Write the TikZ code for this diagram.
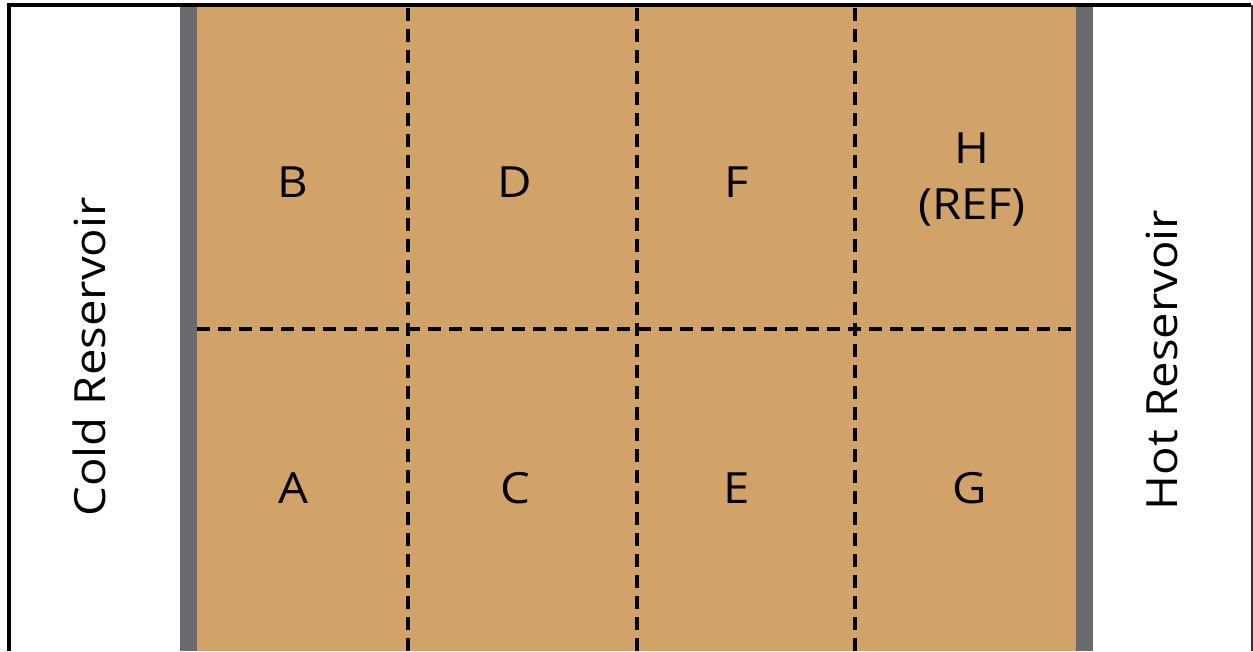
\documentclass[tikz,border=0pt]{standalone}
\usepackage{fontspec}
\setmainfont{Open Sans}[FakeStretch=1.1]
\definecolor{sand}{RGB}{210,163,104}
\definecolor{wallgray}{RGB}{106,107,112}

\begin{document}
\begin{tikzpicture}[x=1pt, y=-1pt,
    lbl/.style={font=\fontsize{43}{56}\selectfont, inner sep=0pt},
    divider/.style={line width=3.1pt, dash pattern=on 13pt off 8pt}]

  % Page area, same size as the image
  \fill[white] (0,0) rectangle (1253,651);
  \useasboundingbox (0,0) rectangle (1253,651);

  % Outer frame (bottom edge is cut off)
  \draw[line width=4pt] (8.5,651) -- (8.5,4.5) -- (1251,4.5);
  \draw[line width=2pt, black!80] (1251.5,4.5) -- (1251.5,651);

  % Walls and the sand sample
  \fill[wallgray] (180,6.5) rectangle (1093,651);
  \fill[sand] (197,6.5) rectangle (1076,651);

  % Dashed dividers
  \draw[divider] (197,329) -- (1076,329);
  \foreach \x in {408,637,855}
    \draw[divider] (\x,8) -- (\x,651);

  % Reservoir labels
  \node[lbl, rotate=90, anchor=base] (cold) at (105,357) {Cold Reservoir};
  \node[lbl, rotate=90, anchor=base] (hot) at (1177,360) {Hot Reservoir};

  % Section labels
  \node[lbl, anchor=base] (B) at (293,197) {B};
  \node[lbl, anchor=base] (D) at (515,197) {D};
  \node[lbl, anchor=base] (F) at (737,197) {F};
  \node[lbl, align=center] (H) at (972,180) {H\\(REF)};
  \node[lbl, anchor=base] (A) at (293,503) {A};
  \node[lbl, anchor=base] (C) at (515,503) {C};
  \node[lbl, anchor=base] (E) at (737,503) {E};
  \node[lbl, anchor=base] (G) at (970,503) {G};

\end{tikzpicture}
\end{document}
